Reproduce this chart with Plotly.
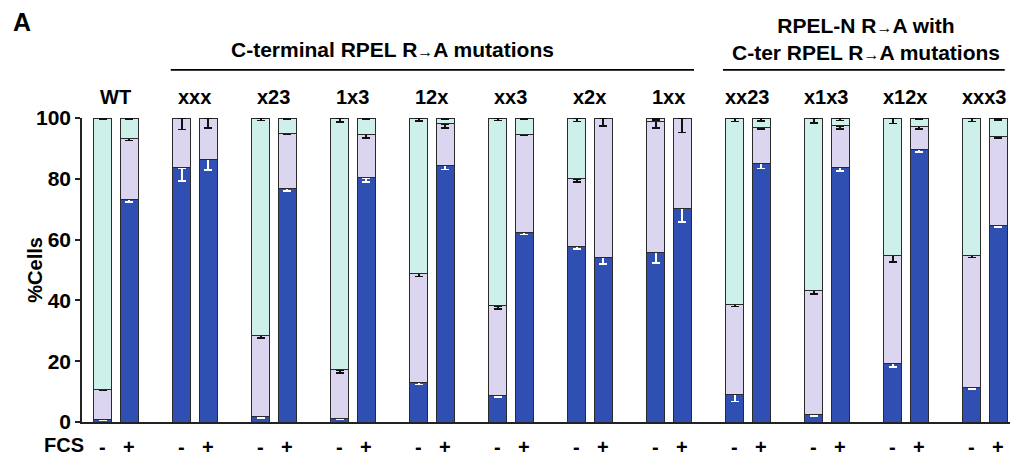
import plotly.graph_objects as go

groups = ["WT", "xxx", "x23", "1x3", "12x", "xx3", "x2x", "1xx", "xx23", "x1x3", "x12x", "xxx3"]
signs = ["-", "+"]

# segment percentages (FCS -)
blue_minus = [0.8, 83.6, 1.9, 1.3, 13.0, 8.8, 57.7, 55.8, 9.0, 2.4, 19.4, 11.4]
lav_minus = [10.0, 16.4, 26.6, 15.9, 35.9, 29.4, 22.3, 43.0, 29.7, 40.8, 35.5, 43.5]
cyan_minus = [89.2, 0.0, 71.5, 82.8, 51.1, 61.8, 20.0, 1.2, 61.3, 56.8, 45.1, 45.1]
# segment percentages (FCS +)
blue_plus = [73.3, 86.3, 76.8, 80.3, 84.5, 62.3, 54.2, 70.2, 85.0, 83.7, 89.7, 64.8]
lav_plus = [19.9, 13.7, 18.1, 14.3, 13.6, 32.3, 45.8, 29.8, 12.0, 13.7, 7.6, 29.2]
cyan_plus = [6.8, 0.0, 5.1, 5.4, 1.9, 5.4, 0.0, 0.0, 3.0, 2.6, 2.7, 6.0]

# error bars (shown downward)
blue_err_minus = [0.3, 4.4, 0.5, 0.5, 0.6, 0.6, 0.8, 3.4, 2.2, 0.5, 1.3, 0.6]
blue_err_plus = [1.0, 3.5, 0.8, 1.3, 1.5, 0.6, 2.3, 4.4, 1.6, 1.1, 0.9, 0.6]
lav_err_minus = [0.5, 0.0, 0.8, 1.1, 1.1, 1.1, 1.0, 2.0, 0.7, 1.1, 2.2, 0.8]
lav_err_plus = [0.6, 0.0, 0.3, 1.1, 1.3, 0.4, 0.0, 0.0, 0.6, 1.1, 1.0, 0.5]
cyan_err_minus = [0.4, 3.8, 0.8, 1.4, 1.0, 0.8, 1.2, 0.6, 1.2, 1.6, 1.8, 1.2]
cyan_err_plus = [0.3, 3.2, 0.3, 0.3, 0.3, 0.3, 2.6, 4.8, 1.0, 0.8, 0.3, 0.6]

ARROW = "<span style='font-size:16px'>→</span>"
header_left = f"C-terminal RPEL R{ARROW}A mutations"
header_right = f"RPEL-N R{ARROW}A with<br>C-ter RPEL R{ARROW}A mutations"

xs, bl, lv, cy, ebl, elv, ecy, lab = [], [], [], [], [], [], [], []
for i in range(len(groups)):
    for j, s in enumerate(signs):
        xs.append(3 * i + j)
        lab.append(s)
        if j == 0:
            bl.append(blue_minus[i]); lv.append(lav_minus[i]); cy.append(cyan_minus[i])
            ebl.append(blue_err_minus[i]); elv.append(lav_err_minus[i]); ecy.append(cyan_err_minus[i])
        else:
            bl.append(blue_plus[i]); lv.append(lav_plus[i]); cy.append(cyan_plus[i])
            ebl.append(blue_err_plus[i]); elv.append(lav_err_plus[i]); ecy.append(cyan_err_plus[i])

zeros = [0] * len(xs)
BW = 0.68
line = dict(color="#2a2a2a", width=1)

def bar(y, color, err, ecol):
    return go.Bar(x=xs, y=y, width=BW, marker=dict(color=color, line=line),
                  error_y=dict(type="data", symmetric=False, array=zeros, arrayminus=err,
                               color=ecol, thickness=1.6, width=4),
                  showlegend=False, hoverinfo="skip")

fig = go.Figure()
fig.add_trace(bar(bl, "#2f4fb2", ebl, "white"))
fig.add_trace(bar(lv, "#dbd5f0", elv, "#111111"))
fig.add_trace(bar(cy, "#cdf0eb", ecy, "#111111"))

font = dict(family="Liberation Sans, Arial, sans-serif", color="black")

def txt(x, y, text, size, xref="paper", xanchor="center", angle=0):
    return dict(x=x, y=y, xref=xref, yref="paper", text=text, showarrow=False,
                xanchor=xanchor, yanchor="middle", textangle=angle,
                font=dict(size=size, weight="bold", **font))

ann = []
for i, g in enumerate(groups):
    ann.append(txt(3 * i + 0.5, 1.069, g, 20, xref="x"))
for x, s in zip(xs, lab):
    ann.append(txt(x, -0.082, s, 20, xref="x"))
ann.append(txt(0.004, -0.076, "FCS", 20, xanchor="right"))
ann.append(txt(-0.065, 1.316, "A", 25))
ann.append(txt(-0.051, 0.5, "%Cells", 20, angle=-90))
ann.append(txt(11.0, 1.224, header_left, 21, xref="x"))
ann.append(txt((3 * 8 + 3 * 11 + 1) / 2, 1.259, header_right, 21, xref="x"))

shapes = [
    dict(type="line", xref="x", yref="paper", x0=3 * 1 - 0.42, x1=3 * 7 + 1 + 0.45,
         y0=1.158, y1=1.158, line=dict(color="black", width=1.8)),
    dict(type="line", xref="x", yref="paper", x0=3 * 8 - 0.45, x1=3 * 11 + 1 + 0.25,
         y0=1.158, y1=1.158, line=dict(color="black", width=1.8)),
]

fig.update_layout(
    barmode="stack",
    width=1013, height=463,
    margin=dict(l=82, r=3, t=118, b=41),
    plot_bgcolor="white", paper_bgcolor="white",
    annotations=ann, shapes=shapes,
    xaxis=dict(range=[-0.79, 34.45], showticklabels=False, ticks="", showgrid=False,
               zeroline=False, showline=True, linecolor="#222", linewidth=1.5),
    yaxis=dict(range=[0, 100], tickvals=[0, 20, 40, 60, 80, 100], ticks="outside", ticklen=5,
               tickwidth=1.5, tickcolor="#222", showgrid=False, zeroline=False,
               showline=True, linecolor="#222", linewidth=1.5,
               tickfont=dict(size=21, weight="bold", **font)),
)

fig.write_html("out.html")
